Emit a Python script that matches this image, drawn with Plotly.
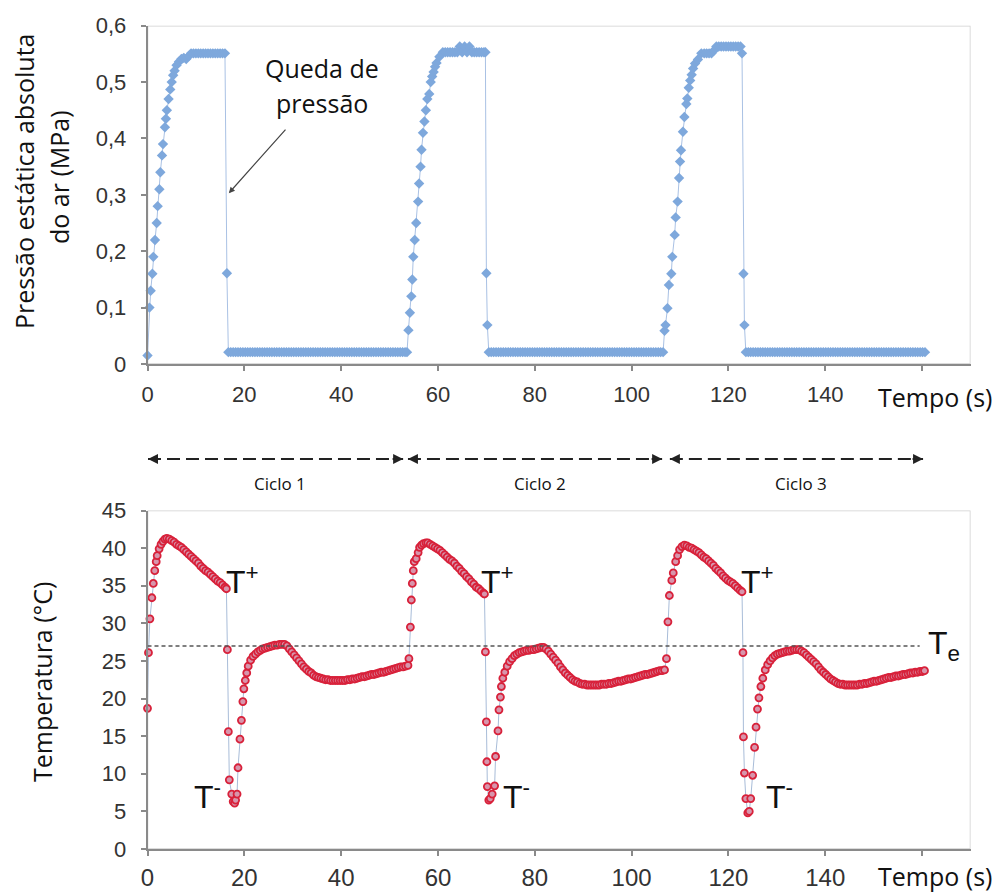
import plotly.graph_objects as go

# ---------------- DATA ----------------
# Pressure (MPa) : (time s, value) pairs
pressure_c1 = [
    (0.0, 0.015), (0.4, 0.100), (0.65, 0.130), (1.0, 0.160), (1.2, 0.190), (1.55, 0.220),
    (1.9, 0.250), (2.1, 0.280), (2.45, 0.310), (2.65, 0.340), (3.0, 0.370), (3.2, 0.390),
    (3.6, 0.420), (3.8, 0.435), (4.0, 0.450), (4.35, 0.470), (4.7, 0.487), (5.0, 0.500),
    (5.3, 0.512), (5.6, 0.520), (6.0, 0.530), (6.5, 0.536), (7.0, 0.541), (7.5, 0.543),
    (8.0, 0.541), (8.5, 0.546), (9.0, 0.551), (9.5, 0.551), (10.0, 0.551), (10.5, 0.551),
    (11.0, 0.551), (11.5, 0.551), (12.0, 0.551), (12.5, 0.551), (13.0, 0.551), (13.5, 0.551),
    (14.0, 0.551), (14.5, 0.551), (15.0, 0.551), (15.5, 0.551), (16.0, 0.551), (16.4, 0.161),
    (16.7, 0.021), (17.2, 0.021), (17.7, 0.021), (18.2, 0.021), (18.7, 0.021), (19.2, 0.021),
    (19.7, 0.021), (20.2, 0.021), (20.7, 0.021), (21.2, 0.021), (21.7, 0.021), (22.2, 0.021),
    (22.7, 0.021), (23.2, 0.021), (23.7, 0.021), (24.2, 0.021), (24.7, 0.021), (25.2, 0.021),
    (25.7, 0.021), (26.2, 0.021), (26.7, 0.021), (27.2, 0.021), (27.7, 0.021), (28.2, 0.021),
    (28.7, 0.021), (29.2, 0.021), (29.7, 0.021), (30.2, 0.021), (30.7, 0.021), (31.2, 0.021),
    (31.7, 0.021), (32.2, 0.021), (32.7, 0.021), (33.2, 0.021), (33.7, 0.021), (34.2, 0.021),
    (34.7, 0.021), (35.2, 0.021), (35.7, 0.021), (36.2, 0.021), (36.7, 0.021), (37.2, 0.021),
    (37.7, 0.021), (38.2, 0.021), (38.7, 0.021), (39.2, 0.021), (39.7, 0.021), (40.2, 0.021),
    (40.7, 0.021), (41.2, 0.021), (41.7, 0.021), (42.2, 0.021), (42.7, 0.021), (43.2, 0.021),
    (43.7, 0.021), (44.2, 0.021), (44.7, 0.021), (45.2, 0.021), (45.7, 0.021), (46.2, 0.021),
    (46.7, 0.021), (47.2, 0.021), (47.7, 0.021), (48.2, 0.021), (48.7, 0.021), (49.2, 0.021),
    (49.7, 0.021), (50.2, 0.021), (50.7, 0.021), (51.2, 0.021), (51.7, 0.021), (52.2, 0.021),
    (52.7, 0.021), (53.2, 0.021), (53.6, 0.021),
]
pressure_c2 = [
    (53.9, 0.060), (54.2, 0.091), (54.5, 0.120), (54.7, 0.150), (54.9, 0.190), (55.2, 0.220),
    (55.5, 0.250), (55.9, 0.288), (56.1, 0.320), (56.4, 0.350), (56.6, 0.380), (56.9, 0.410),
    (57.2, 0.430), (57.5, 0.450), (57.8, 0.470), (58.2, 0.479), (58.5, 0.500), (58.8, 0.510),
    (59.1, 0.518), (59.4, 0.527), (59.7, 0.534), (60.3, 0.545), (61.0, 0.553), (61.5, 0.553),
    (62.0, 0.553), (62.5, 0.553), (63.0, 0.553), (63.5, 0.553), (64.0, 0.553), (64.5, 0.563),
    (65.0, 0.553), (65.5, 0.563), (66.0, 0.553), (66.5, 0.563), (67.0, 0.553), (67.5, 0.553),
    (68.0, 0.553), (68.5, 0.553), (69.0, 0.553), (69.5, 0.553), (69.8, 0.553), (70.0, 0.161),
    (70.2, 0.069), (70.5, 0.021), (71.0, 0.021), (71.5, 0.021), (72.0, 0.021), (72.5, 0.021),
    (73.0, 0.021), (73.5, 0.021), (74.0, 0.021), (74.5, 0.021), (75.0, 0.021), (75.5, 0.021),
    (76.0, 0.021), (76.5, 0.021), (77.0, 0.021), (77.5, 0.021), (78.0, 0.021), (78.5, 0.021),
    (79.0, 0.021), (79.5, 0.021), (80.0, 0.021), (80.5, 0.021), (81.0, 0.021), (81.5, 0.021),
    (82.0, 0.021), (82.5, 0.021), (83.0, 0.021), (83.5, 0.021), (84.0, 0.021), (84.5, 0.021),
    (85.0, 0.021), (85.5, 0.021), (86.0, 0.021), (86.5, 0.021), (87.0, 0.021), (87.5, 0.021),
    (88.0, 0.021), (88.5, 0.021), (89.0, 0.021), (89.5, 0.021), (90.0, 0.021), (90.5, 0.021),
    (91.0, 0.021), (91.5, 0.021), (92.0, 0.021), (92.5, 0.021), (93.0, 0.021), (93.5, 0.021),
    (94.0, 0.021), (94.5, 0.021), (95.0, 0.021), (95.5, 0.021), (96.0, 0.021), (96.5, 0.021),
    (97.0, 0.021), (97.5, 0.021), (98.0, 0.021), (98.5, 0.021), (99.0, 0.021), (99.5, 0.021),
    (100.0, 0.021), (100.5, 0.021), (101.0, 0.021), (101.5, 0.021), (102.0, 0.021), (102.5, 0.021),
    (103.0, 0.021), (103.5, 0.021), (104.0, 0.021), (104.5, 0.021), (105.0, 0.021), (105.5, 0.021),
    (106.0, 0.021), (106.5, 0.021),
]
pressure_c3 = [
    (106.8, 0.059), (107.0, 0.069), (107.4, 0.099), (107.7, 0.140), (108.2, 0.160), (108.4, 0.190),
    (108.9, 0.229), (109.1, 0.260), (109.5, 0.288), (109.8, 0.330), (110.0, 0.359), (110.2, 0.379),
    (110.6, 0.412), (110.9, 0.438), (111.3, 0.461), (111.5, 0.471), (111.8, 0.490), (112.1, 0.503),
    (112.4, 0.513), (112.7, 0.524), (113.1, 0.533), (113.7, 0.540), (114.4, 0.551), (115.0, 0.551),
    (115.5, 0.551), (116.0, 0.551), (116.5, 0.551), (117.0, 0.556), (117.5, 0.563), (118.0, 0.563),
    (118.5, 0.563), (119.0, 0.563), (119.5, 0.563), (120.0, 0.563), (120.5, 0.563), (121.0, 0.563),
    (121.5, 0.563), (122.0, 0.563), (122.5, 0.563), (122.8, 0.551), (123.1, 0.160), (123.3, 0.069),
    (123.6, 0.021), (124.1, 0.021), (124.6, 0.021), (125.1, 0.021), (125.6, 0.021), (126.1, 0.021),
    (126.6, 0.021), (127.1, 0.021), (127.6, 0.021), (128.1, 0.021), (128.6, 0.021), (129.1, 0.021),
    (129.6, 0.021), (130.1, 0.021), (130.6, 0.021), (131.1, 0.021), (131.6, 0.021), (132.1, 0.021),
    (132.6, 0.021), (133.1, 0.021), (133.6, 0.021), (134.1, 0.021), (134.6, 0.021), (135.1, 0.021),
    (135.6, 0.021), (136.1, 0.021), (136.6, 0.021), (137.1, 0.021), (137.6, 0.021), (138.1, 0.021),
    (138.6, 0.021), (139.1, 0.021), (139.6, 0.021), (140.1, 0.021), (140.6, 0.021), (141.1, 0.021),
    (141.6, 0.021), (142.1, 0.021), (142.6, 0.021), (143.1, 0.021), (143.6, 0.021), (144.1, 0.021),
    (144.6, 0.021), (145.1, 0.021), (145.6, 0.021), (146.1, 0.021), (146.6, 0.021), (147.1, 0.021),
    (147.6, 0.021), (148.1, 0.021), (148.6, 0.021), (149.1, 0.021), (149.6, 0.021), (150.1, 0.021),
    (150.6, 0.021), (151.1, 0.021), (151.6, 0.021), (152.1, 0.021), (152.6, 0.021), (153.1, 0.021),
    (153.6, 0.021), (154.1, 0.021), (154.6, 0.021), (155.1, 0.021), (155.6, 0.021), (156.1, 0.021),
    (156.6, 0.021), (157.1, 0.021), (157.6, 0.021), (158.1, 0.021), (158.6, 0.021), (159.1, 0.021),
    (159.6, 0.021), (160.1, 0.021), (160.6, 0.021),
]

# Temperature (degC) : (time s, value) pairs
temperature_c1 = [
    (0.0, 18.7), (0.2, 26.1), (0.5, 30.6), (0.9, 33.4), (1.2, 35.3), (1.5, 37.0), (1.8, 38.2),
    (2.0, 39.0), (2.4, 39.9), (2.8, 40.5), (3.2, 40.9), (3.6, 41.2), (4.0, 41.3), (4.5, 41.2),
    (5.0, 41.0), (5.5, 40.8), (6.0, 40.5), (6.5, 40.3), (7.0, 40.1), (7.5, 39.8), (8.0, 39.5),
    (8.5, 39.2), (9.0, 38.9), (9.5, 38.6), (10.0, 38.3), (10.5, 38.0), (11.0, 37.6), (11.5, 37.3),
    (12.0, 37.0), (12.5, 36.8), (13.0, 36.5), (13.5, 36.2), (14.0, 35.9), (14.5, 35.6), (15.0, 35.4),
    (15.5, 35.1), (16.0, 34.8), (16.3, 34.6),
    (16.5, 26.5), (16.7, 15.6), (16.9, 9.2), (17.4, 7.3), (17.7, 6.3), (18.0, 6.1), (18.2, 6.5),
    (18.5, 7.3), (18.7, 10.8), (19.1, 14.6), (19.4, 17.1), (19.7, 19.6), (19.9, 21.3), (20.2, 22.4),
    (20.5, 23.4), (20.8, 24.3), (21.3, 25.1), (21.8, 25.6), (22.3, 25.9), (22.8, 26.2), (23.3, 26.4),
    (23.8, 26.6), (24.3, 26.7), (24.8, 26.8), (25.3, 26.9), (25.8, 27.0), (26.3, 27.1), (26.8, 27.1),
    (27.3, 27.2), (27.8, 27.2), (28.3, 27.2), (28.8, 27.0), (29.3, 26.6), (29.8, 26.2), (30.3, 25.8),
    (30.8, 25.4), (31.3, 25.0), (31.8, 24.6), (32.3, 24.2), (32.8, 23.9), (33.3, 23.6), (33.8, 23.4),
    (34.3, 23.1), (34.8, 22.9), (35.3, 22.8), (35.8, 22.7), (36.3, 22.6), (36.8, 22.5), (37.3, 22.5),
    (37.8, 22.4), (38.3, 22.4), (38.8, 22.4), (39.3, 22.4), (39.8, 22.4), (40.3, 22.4), (40.8, 22.4),
    (41.3, 22.5), (41.8, 22.5), (42.3, 22.6), (42.8, 22.6), (43.3, 22.7), (43.8, 22.8), (44.3, 22.9),
    (44.8, 22.9), (45.3, 23.0), (45.8, 23.1), (46.3, 23.2), (46.8, 23.2), (47.3, 23.3), (47.8, 23.4),
    (48.3, 23.5), (48.8, 23.5), (49.3, 23.6), (49.8, 23.7), (50.3, 23.8), (50.8, 23.9), (51.3, 24.0),
    (51.8, 24.1), (52.3, 24.2), (52.8, 24.2), (53.3, 24.3), (53.8, 24.4),
]
temperature_c2 = [
    (54.0, 25.3), (54.3, 29.5), (54.5, 33.1), (54.7, 35.3), (54.9, 37.0), (55.1, 38.2), (55.5, 38.6),
    (55.9, 39.4), (56.2, 40.1), (56.6, 40.4), (57.0, 40.6), (57.5, 40.7), (57.9, 40.7), (58.4, 40.5),
    (58.9, 40.3), (59.4, 40.1), (59.9, 39.9), (60.4, 39.7), (60.9, 39.4), (61.4, 39.1), (61.9, 38.8),
    (62.4, 38.5), (62.9, 38.3), (63.4, 38.0), (63.9, 37.6), (64.4, 37.3), (64.9, 36.9), (65.4, 36.6),
    (65.9, 36.2), (66.4, 35.9), (66.9, 35.5), (67.4, 35.2), (67.9, 34.8), (68.4, 34.6), (68.9, 34.3),
    (69.4, 34.0), (69.6, 33.9),
    (69.8, 26.2), (70.0, 16.9), (70.1, 11.6), (70.2, 8.3), (70.5, 6.5), (70.8, 6.7), (71.2, 7.3),
    (71.7, 8.4), (71.9, 12.3), (72.4, 15.7), (72.6, 18.5), (72.9, 20.2), (73.1, 21.6), (73.4, 22.7),
    (73.8, 23.5), (74.3, 24.3), (74.8, 24.9), (75.3, 25.3), (75.8, 25.7), (76.3, 25.9), (76.8, 26.1),
    (77.3, 26.2), (77.8, 26.3), (78.3, 26.4), (78.8, 26.4), (79.3, 26.5), (79.8, 26.5), (80.3, 26.6),
    (80.8, 26.7), (81.3, 26.8), (81.8, 26.8), (82.3, 26.6), (82.8, 26.3), (83.3, 25.9), (83.8, 25.5),
    (84.3, 25.1), (84.8, 24.7), (85.3, 24.2), (85.8, 23.8), (86.3, 23.4), (86.8, 23.1), (87.3, 22.8),
    (87.8, 22.5), (88.3, 22.3), (88.8, 22.2), (89.3, 22.0), (89.8, 21.9), (90.3, 21.9), (90.8, 21.8),
    (91.3, 21.8), (91.8, 21.8), (92.3, 21.8), (92.8, 21.8), (93.3, 21.8), (93.8, 21.9), (94.3, 21.9),
    (94.8, 21.9), (95.3, 22.0), (95.8, 22.0), (96.3, 22.1), (96.8, 22.2), (97.3, 22.3), (97.8, 22.3),
    (98.3, 22.4), (98.8, 22.5), (99.3, 22.6), (99.8, 22.6), (100.3, 22.7), (100.8, 22.8), (101.3, 22.9),
    (101.8, 23.0), (102.3, 23.1), (102.8, 23.2), (103.3, 23.2), (103.8, 23.3), (104.3, 23.4),
    (104.8, 23.5), (105.3, 23.6), (105.8, 23.7), (106.3, 23.7), (106.8, 23.8),
]
temperature_c3 = [
    (107.2, 25.3), (107.5, 30.2), (107.8, 33.7), (108.3, 35.7), (108.6, 36.7), (109.1, 38.2),
    (109.5, 39.0), (109.9, 39.8), (110.4, 40.2), (110.9, 40.4), (111.4, 40.3), (111.9, 40.1),
    (112.4, 40.0), (112.9, 39.8), (113.4, 39.6), (113.9, 39.4), (114.4, 39.1), (114.9, 38.8),
    (115.4, 38.6), (115.9, 38.3), (116.4, 38.0), (116.9, 37.7), (117.4, 37.3), (117.9, 37.0),
    (118.4, 36.7), (118.9, 36.3), (119.4, 36.0), (119.9, 35.7), (120.4, 35.5), (120.9, 35.3),
    (121.4, 35.0), (121.9, 34.7), (122.4, 34.4), (122.8, 34.2),
    (123.0, 26.1), (123.1, 14.9), (123.3, 10.1), (123.6, 6.7), (124.0, 4.8), (124.3, 5.0),
    (124.6, 6.7), (125.0, 9.8), (125.4, 13.5), (125.7, 16.2), (126.0, 18.6), (126.3, 20.1),
    (126.7, 21.6), (127.1, 22.7), (127.6, 23.8), (128.1, 24.5), (128.6, 25.0), (129.1, 25.4),
    (129.6, 25.7), (130.1, 25.9), (130.6, 26.0), (131.1, 26.1), (131.6, 26.2), (132.1, 26.3),
    (132.6, 26.3), (133.1, 26.4), (133.6, 26.5), (134.1, 26.5), (134.6, 26.5), (135.1, 26.3),
    (135.6, 26.1), (136.1, 25.8), (136.6, 25.5), (137.1, 25.2), (137.6, 24.9), (138.1, 24.6),
    (138.6, 24.2), (139.1, 23.8), (139.6, 23.5), (140.1, 23.2), (140.6, 22.9), (141.1, 22.6),
    (141.6, 22.4), (142.1, 22.2), (142.6, 22.0), (143.1, 21.9), (143.6, 21.9), (144.1, 21.8),
    (144.6, 21.8), (145.1, 21.8), (145.6, 21.8), (146.1, 21.8), (146.6, 21.8), (147.1, 21.9),
    (147.6, 21.9), (148.1, 22.0), (148.6, 22.0), (149.1, 22.1), (149.6, 22.2), (150.1, 22.3),
    (150.6, 22.3), (151.1, 22.4), (151.6, 22.5), (152.1, 22.6), (152.6, 22.7), (153.1, 22.8),
    (153.6, 22.8), (154.1, 22.9), (154.6, 23.0), (155.1, 23.0), (155.6, 23.1), (156.1, 23.2),
    (156.6, 23.2), (157.1, 23.3), (157.6, 23.4), (158.1, 23.4), (158.6, 23.5), (159.1, 23.5),
    (159.6, 23.6), (160.1, 23.6), (160.5, 23.7),
]

x_tick_values = [0, 20, 40, 60, 80, 100, 120, 140, 160]
x_tick_labels = ["0", "20", "40", "60", "80", "100", "120", "140", ""]
p_tick_values = [0, 0.1, 0.2, 0.3, 0.4, 0.5, 0.6]
p_tick_labels = ["0", "0,1", "0,2", "0,3", "0,4", "0,5", "0,6"]
t_tick_values = [0, 5, 10, 15, 20, 25, 30, 35, 40, 45]
t_tick_labels = ["0", "5", "10", "15", "20", "25", "30", "35", "40", "45"]

equilibrium_temperature = 27.0
cycle_bounds = [(0.1, 52.8), (53.8, 106.3), (107.9, 160.2)]
cycle_names = ["Ciclo 1", "Ciclo 2", "Ciclo 3"]

# ---------------- FIGURE ----------------
W, H = 1003, 893
def px(x):
    return x / W
def py(y):
    return 1 - y / H

pressure = pressure_c1 + pressure_c2 + pressure_c3
temperature = temperature_c1 + temperature_c2 + temperature_c3

fig = go.Figure()
fig.add_trace(go.Scatter(
    x=[p[0] for p in pressure], y=[p[1] for p in pressure],
    mode="lines+markers", xaxis="x", yaxis="y",
    line=dict(color="#a9c1e4", width=1),
    marker=dict(symbol="diamond", size=8, color="#7ea8dc", line=dict(width=0)),
    showlegend=False, cliponaxis=False,
))
fig.add_trace(go.Scatter(
    x=[p[0] for p in temperature], y=[p[1] for p in temperature],
    mode="lines+markers", xaxis="x2", yaxis="y2",
    line=dict(color="#a8bcd8", width=1),
    marker=dict(symbol="circle", size=7, color="#d795ac", line=dict(width=1.8, color="#d8213a")),
    showlegend=False, cliponaxis=False,
))

tick_font = dict(family="Liberation Sans, Arial, sans-serif", size=22, color="#333333")
axis_common = dict(
    showline=True, linecolor="#8a8a8a", linewidth=1.5,
    ticks="outside", ticklen=5, tickwidth=1.5, tickcolor="#8a8a8a",
    showgrid=False, zeroline=False, mirror=False, automargin=False,
)

fig.update_layout(
    template="none",
    width=W, height=H,
    margin=dict(l=0, r=0, t=0, b=0, pad=0, autoexpand=False),
    paper_bgcolor="white", plot_bgcolor="white",
    xaxis=dict(domain=[px(147.5), px(970.5)], anchor="y", range=[0, 170],
               tickvals=x_tick_values, ticktext=x_tick_labels,
               tickfont=dict(family="Liberation Sans, Arial, sans-serif", size=22, color="#333333"),
               ticklabelstandoff=5, **axis_common),
    yaxis=dict(domain=[py(364), py(25.7)], anchor="x", range=[0, 0.6],
               tickvals=p_tick_values, ticktext=p_tick_labels,
               tickfont=tick_font, ticklabelstandoff=10, **axis_common),
    xaxis2=dict(domain=[px(147.5), px(970.5)], anchor="y2", range=[0, 170],
                tickvals=x_tick_values, ticktext=x_tick_labels,
                tickfont=dict(family="Liberation Sans, Arial, sans-serif", size=24, color="#333333"),
                ticklabelstandoff=1, **axis_common),
    yaxis2=dict(domain=[py(849), py(510.5)], anchor="x2", range=[0, 45],
                tickvals=t_tick_values, ticktext=t_tick_labels,
                tickfont=tick_font, ticklabelstandoff=10, **axis_common),
)

# light frame (top / right edges)
for xr, yr, ytop in (("x", "y", 0.6), ("x2", "y2", 45)):
    fig.add_shape(type="rect", xref=xr, yref=yr, x0=0, x1=170, y0=0, y1=ytop,
                  line=dict(color="#cfcfcf", width=1.5), layer="below")

# equilibrium temperature line
fig.add_shape(type="line", xref="x2", yref="y2", x0=0, x1=159.5,
              y0=equilibrium_temperature, y1=equilibrium_temperature,
              line=dict(color="#555555", width=1.5, dash="4px,3px"))

# cycle arrows
arrow_y = py(459)
for (a, b), name in zip(cycle_bounds, cycle_names):
    fig.add_shape(type="line", xref="x", yref="paper", x0=a, x1=b, y0=arrow_y, y1=arrow_y,
                  line=dict(color="#222222", width=2, dash="13px,6px"))
    fig.add_annotation(x=a, y=arrow_y, xref="x", yref="paper", ax=12, ay=0, text="",
                       showarrow=True, arrowhead=2, arrowsize=1, arrowwidth=2, arrowcolor="#222222")
    fig.add_annotation(x=b, y=arrow_y, xref="x", yref="paper", ax=-12, ay=0, text="",
                       showarrow=True, arrowhead=2, arrowsize=1, arrowwidth=2, arrowcolor="#222222")
    fig.add_annotation(x=(a + b) / 2 + 1.0, y=py(483), xref="x", yref="paper", text=name,
                       xanchor="center", yanchor="middle",
                       showarrow=False, font=dict(family="Open Sans", size=17, color="#111111"))

text_font = dict(family="Open Sans", size=25, color="#111111")

def label(x, y, text, angle=0, font=text_font):
    fig.add_annotation(x=px(x), y=py(y), xref="paper", yref="paper", text=text,
                       textangle=angle, xanchor="center", yanchor="middle",
                       showarrow=False, font=font)

# axis titles
label(24, 182, "Pressão estática absoluta", -90)
label(59, 177, "do ar (MPa)", -90)
label(42, 682, "Temperatura (°C)", -90)
label(935, 397, "Tempo (s)")
label(935, 876, "Tempo (s)")

# pressure drop annotation
label(322, 68, "Queda de")
label(322, 103, "pressão")
fig.add_annotation(x=16.8, y=0.303, xref="x", yref="y", ax=58, ay=-65, text="",
                   showarrow=True, arrowhead=2, arrowsize=1, arrowwidth=1.2, arrowcolor="#444444")

# T+ / T- / Te labels
big = dict(family="Liberation Sans, Arial, sans-serif", size=32, color="#111111")
for t, T in ((19.7, 35.7), (72.2, 35.7), (125.9, 35.7)):
    fig.add_annotation(x=t, y=T, xref="x2", yref="y2", text="T<sup>+</sup>", showarrow=False, font=big)
for t, T in ((12.3, 7.2), (76.3, 7.2), (130.6, 7.2)):
    fig.add_annotation(x=t, y=T, xref="x2", yref="y2", text="T<sup>-</sup>", showarrow=False, font=big)
fig.add_annotation(x=160.8, y=27.0, xref="x2", yref="y2", text="T<sub>e</sub>", xanchor="left",
                   showarrow=False, font=big)

fig.write_html("out.html", config={"displayModeBar": False},
               post_script="document.body.style.margin='0';document.body.style.overflow='hidden';")
